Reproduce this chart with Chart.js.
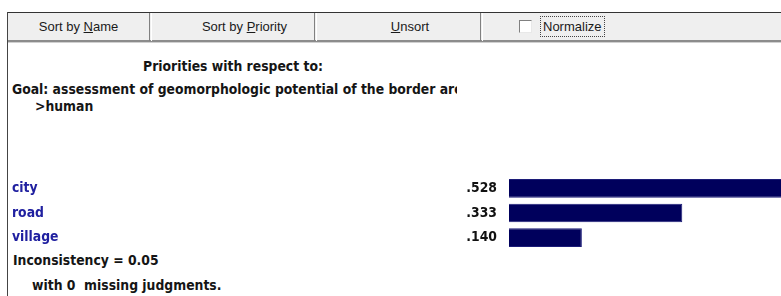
<!DOCTYPE html>
<html><head><meta charset="utf-8">
<script src="https://cdn.jsdelivr.net/npm/chart.js@4.4.1/dist/chart.umd.min.js"></script>
<style>
html,body{margin:0;padding:0;background:#fff;}
body{width:781px;height:296px;overflow:hidden;position:relative;}
.abs{position:absolute;}
.bold{position:absolute;font-family:'DejaVu Sans Condensed','DejaVu Sans',sans-serif;font-stretch:condensed;font-weight:bold;font-size:13.8px;color:#151515;white-space:pre;line-height:18px;height:18px;}
.btn{position:absolute;top:13px;height:27px;line-height:27px;text-align:center;font-family:'Liberation Sans',Arial,sans-serif;font-size:13px;color:#1a1a1a;}
.btn u{text-decoration:underline;}
.vl{position:absolute;top:13px;width:1px;height:28px;}
</style>
</head><body>
<div class="abs" style="left:7px;top:12px;width:774px;height:31px;background:#efefef;border-top:1px solid #333;box-sizing:border-box;"></div>
<div class="abs" style="left:7px;top:40px;width:774px;height:2px;background:#8c8c8c;"></div>
<div class="abs" style="left:7px;top:42px;width:774px;height:1px;background:#d0d0d0;"></div>
<div class="abs" style="left:7px;top:12px;width:1px;height:284px;background:#444;"></div>
<div class="vl" style="left:149px;background:#808080;"></div>
<div class="vl" style="left:151px;background:#ffffff;"></div>
<div class="vl" style="left:314px;background:#808080;"></div>
<div class="vl" style="left:316px;background:#ffffff;"></div>
<div class="vl" style="left:480px;background:#808080;"></div>
<div class="vl" style="left:482px;background:#ffffff;"></div>
<div class="btn" style="left:8px;width:141px;">Sort by <u>N</u>ame</div>
<div class="btn" style="left:175px;width:139px;">Sort by <u>P</u>riority</div>
<div class="btn" style="left:340px;width:140px;"><u>U</u>nsort</div>
<div class="abs" style="left:519px;top:20px;width:11px;height:11px;background:#fff;border-top:1px solid #808080;border-left:1px solid #808080;border-right:1px solid #e8e8e8;border-bottom:1px solid #e8e8e8;"></div>
<div class="btn" style="left:540px;top:16px;height:19px;line-height:19px;padding:0 2px;border:1px dotted #444;">Normalize</div>

<div class="bold" style="left:0;width:466px;top:57px;text-align:center;">Priorities with respect to:</div>
<div class="bold" style="left:12px;width:445px;top:80px;overflow:hidden;">Goal: assessment of geomorphologic potential of the border are</div>
<div class="bold" style="left:35px;top:97px;">&gt;human</div>
<div class="bold" style="left:13px;top:251px;">Inconsistency = 0.05</div>
<div class="bold" style="left:32px;top:276px;">with 0  missing judgments.</div>

<canvas id="c" width="778" height="74" style="position:absolute;left:12px;top:176px;"></canvas>
<script>
const categories = ['city', 'road', 'village'];
const priorities = [0.528, 0.333, 0.140];
const axisMax = 0.54;

const boldFont = "'DejaVu Sans Condensed','DejaVu Sans',sans-serif";

const valueLabels = {
  id: 'valueLabels',
  afterDatasetsDraw(chart) {
    const ctx = chart.ctx;
    const meta = chart.getDatasetMeta(0);
    ctx.save();
    ctx.font = 'bold 13.8px ' + boldFont;
    ctx.fillStyle = '#111';
    ctx.textAlign = 'right';
    ctx.textBaseline = 'middle';
    meta.data.forEach((bar, i) => {
      const txt = priorities[i].toFixed(3).replace(/^0/, '');
      ctx.fillText(txt, chart.chartArea.left - 12, bar.y);
    });
    ctx.restore();
  }
};

new Chart(document.getElementById('c'), {
  type: 'bar',
  data: {
    labels: categories,
    datasets: [{
      data: priorities,
      backgroundColor: '#00005c',
      borderColor: '#1c1c78',
      borderWidth: 1,
      barPercentage: 0.76,
      categoryPercentage: 1.0
    }]
  },
  options: {
    indexAxis: 'y',
    responsive: false,
    animation: false,
    events: [],
    layout: { padding: 0 },
    plugins: { legend: { display: false }, tooltip: { enabled: false } },
    scales: {
      x: { min: 0, max: axisMax, display: false },
      y: {
        grid: { display: false },
        border: { display: false },
        ticks: {
          crossAlign: 'far',
          padding: 0,
          color: '#2020a0',
          font: { family: boldFont, weight: 'bold', size: 13.8 }
        },
        afterFit(axis) {
          axis.width = 497;
          axis.paddingTop = 0;
          axis.paddingBottom = 0;
        }
      }
    }
  },
  plugins: [valueLabels]
});
</script>
</body></html>
